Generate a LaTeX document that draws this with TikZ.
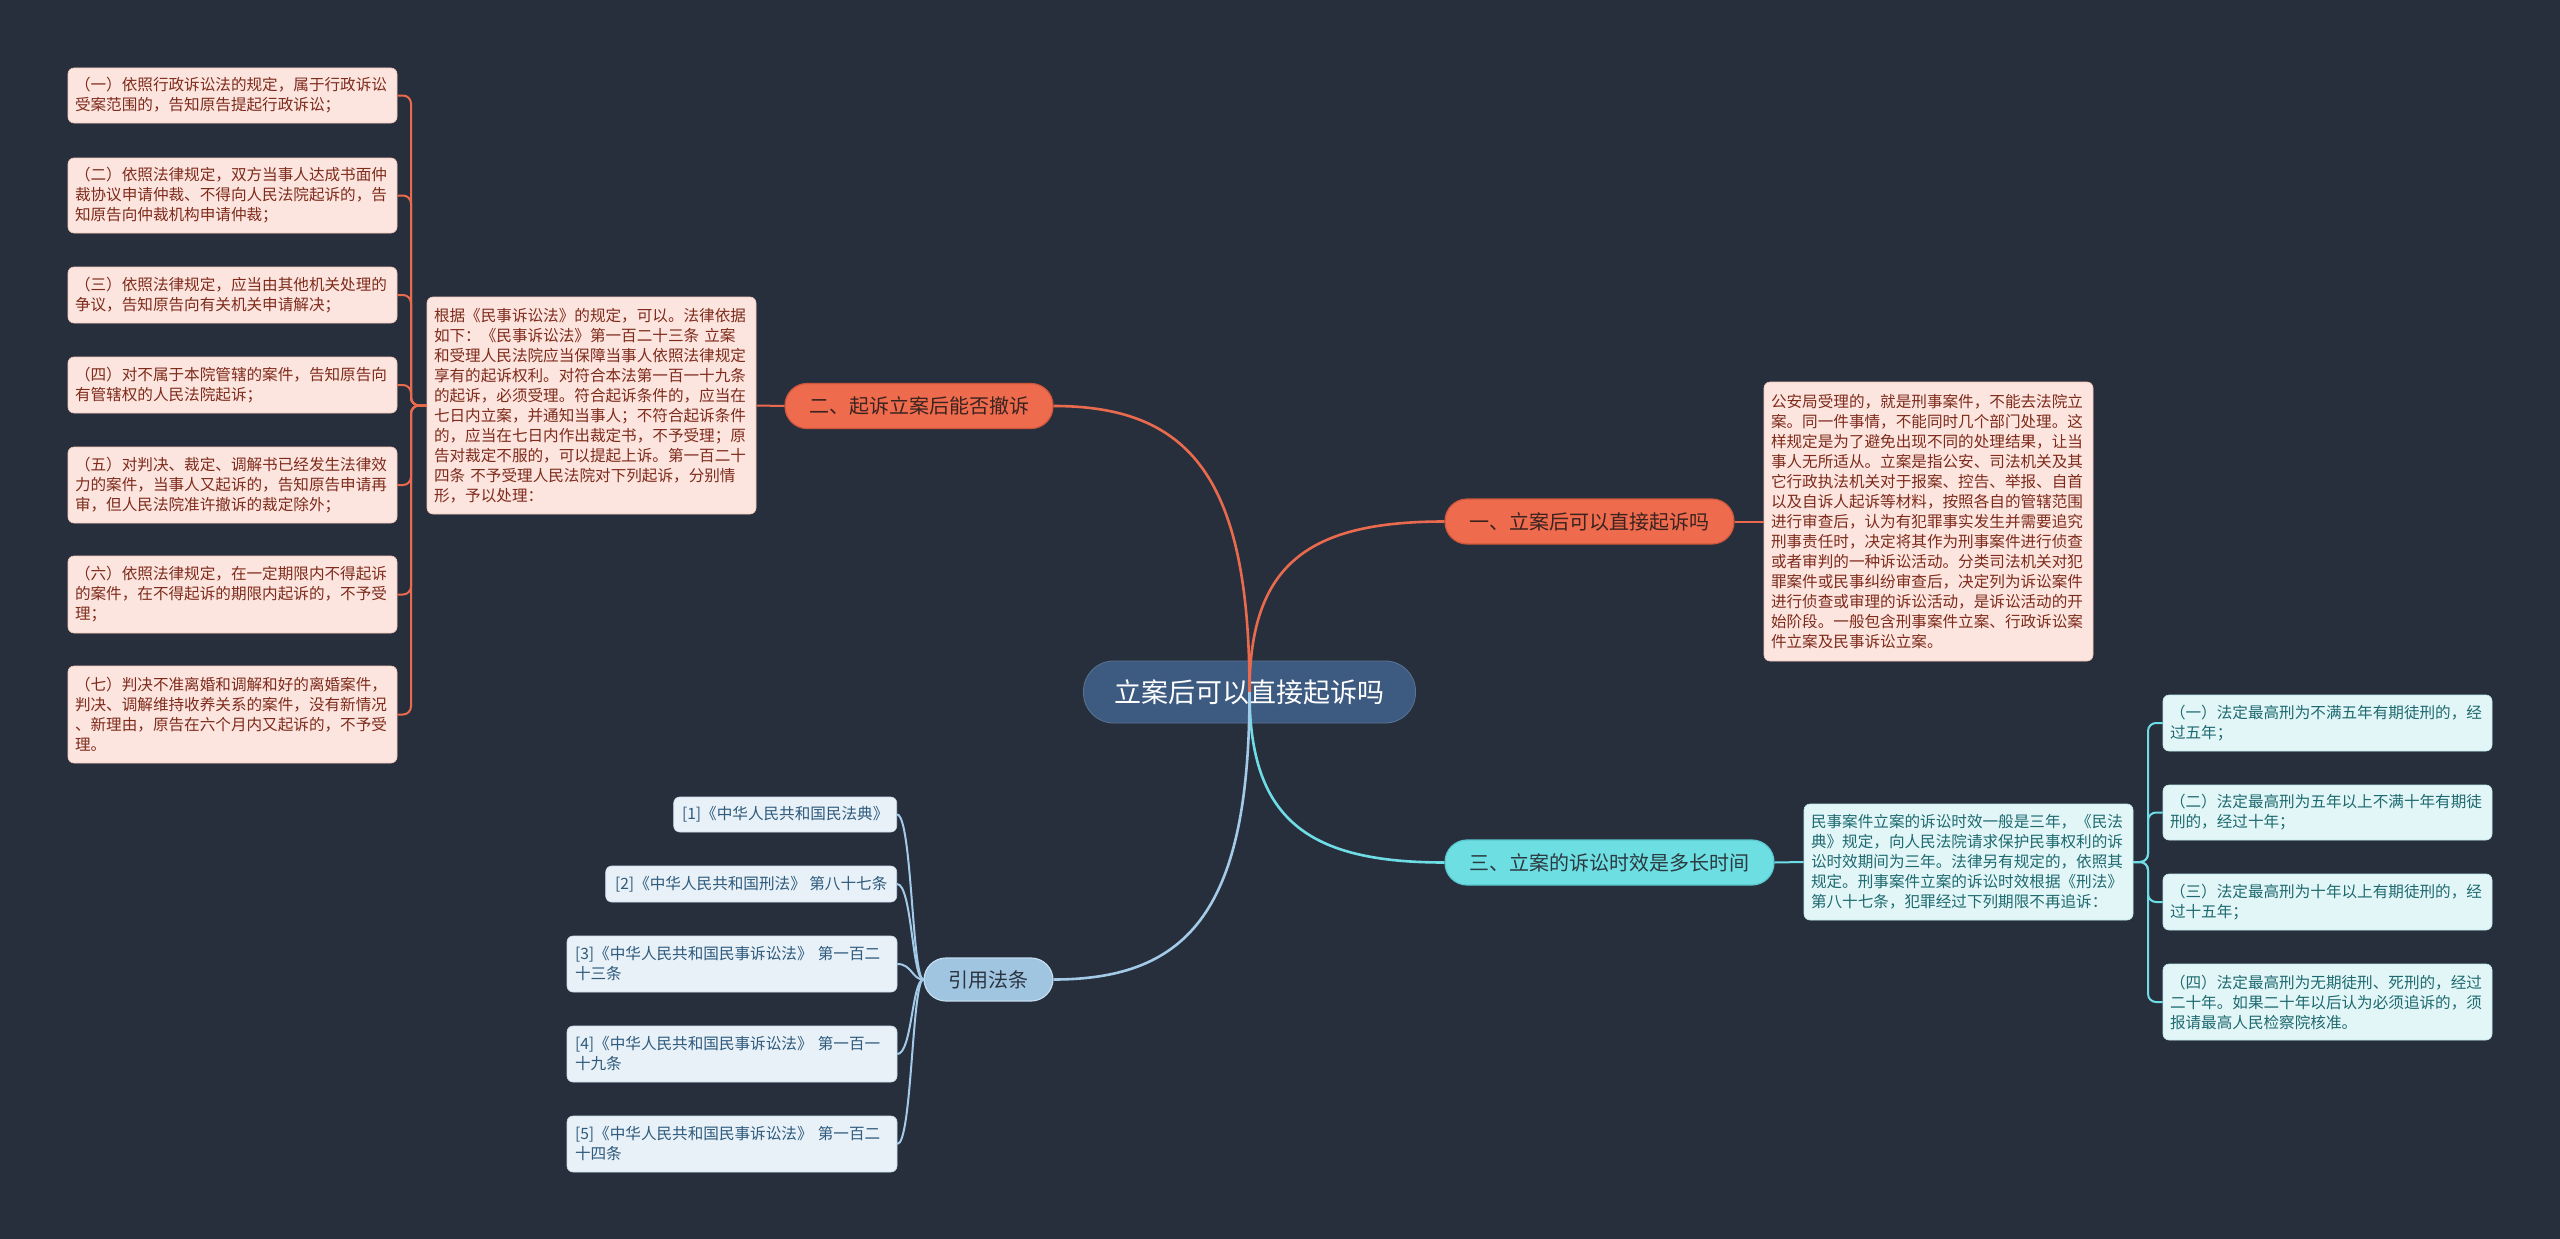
\documentclass[tikz,border=0pt]{standalone}
\usepackage{fontspec}
\setmainfont{Noto Sans CJK SC}
\definecolor{bg}{HTML}{272F3D}
\definecolor{cnode}{HTML}{3D5A80}
\definecolor{orf}{HTML}{EE6B4D}
\definecolor{ord}{HTML}{CF563C}
\definecolor{ortx}{HTML}{3A2320}
\definecolor{cyf}{HTML}{6DDFE3}
\definecolor{cyd}{HTML}{58C6CC}
\definecolor{cytx}{HTML}{2C3940}
\definecolor{blf}{HTML}{A0C5E1}
\definecolor{bld}{HTML}{C3DCEE}
\definecolor{bltx}{HTML}{2B3340}
\definecolor{pkf}{HTML}{FDE5DF}
\definecolor{pkd}{HTML}{F2C6BA}
\definecolor{pktx}{HTML}{7E2B1B}
\definecolor{lcf}{HTML}{E2F6F7}
\definecolor{lcd}{HTML}{BFE9EC}
\definecolor{lctx}{HTML}{1E6A70}
\definecolor{lbf}{HTML}{E8F1F8}
\definecolor{lbd}{HTML}{C9DCEA}
\definecolor{lbtx}{HTML}{2E5A7C}
\definecolor{orl}{HTML}{EA6A4E}
\definecolor{cyl}{HTML}{6FDDE6}
\definecolor{bll}{HTML}{A3CBE8}
\begin{document}
\begin{tikzpicture}[x=1pt,y=-1pt,
  mainnode/.style={fill=cnode, draw=cnode!85!white, line width=0.8pt, text=white, rounded corners=30pt,
    minimum width=332pt, minimum height=62pt, inner sep=0pt, font=\fontsize{27}{30}\selectfont},
  brnode/.style={rounded corners=22pt, inner sep=0pt, line width=1.2pt, minimum height=45pt,
    font=\fontsize{20}{24}\selectfont},
  brO/.style={brnode, fill=orf, draw=ord, text=ortx},
  brC/.style={brnode, fill=cyf, draw=cyd, text=cytx},
  brB/.style={brnode, fill=blf, draw=bld, text=bltx},
  leaf/.style={rounded corners=6pt, inner sep=0pt, line width=0.6pt, align=left,
    font=\fontsize{15.6}{20}\selectfont},
  leafP/.style={leaf, fill=pkf, draw=pkd, text=pktx},
  leafC/.style={leaf, fill=lcf, draw=lcd, text=lctx},
  leafB/.style={leaf, fill=lbf, draw=lbd, text=lbtx},
  mainline/.style={line width=2.6pt},
  subline/.style={line width=2pt, rounded corners=8pt}
]
\useasboundingbox (0,0) rectangle (2560,1239);
\fill[bg] (0,0) rectangle (2560,1239);

% central node
\node[mainnode] (root) at (1249.5,692) {立案后可以直接起诉吗};

% branches
\node[brO, minimum width=289pt] (b1) at (1589.5,521.5) {一、立案后可以直接起诉吗};
\node[brO, minimum width=268pt] (b2) at (919,406) {二、起诉立案后能否撤诉};
\node[brC, minimum width=329pt] (b3) at (1609.5,862.5) {三、立案的诉讼时效是多长时间};
\node[brB, minimum width=129pt, minimum height=43pt] (b4) at (988.5,979.5) {引用法条};

% detail boxes
\node[leafP, minimum width=329pt, minimum height=279pt, text width=315pt] (d1) at (1928.5,521.5) {公安局受理的，就是刑事案件，不能去法院立\\案。同一件事情，不能同时几个部门处理。这\\样规定是为了避免出现不同的处理结果，让当\\事人无所适从。立案是指公安、司法机关及其\\它行政执法机关对于报案、控告、举报、自首\\以及自诉人起诉等材料，按照各自的管辖范围\\进行审查后，认为有犯罪事实发生并需要追究\\刑事责任时，决定将其作为刑事案件进行侦查\\或者审判的一种诉讼活动。分类司法机关对犯\\罪案件或民事纠纷审查后，决定列为诉讼案件\\进行侦查或审理的诉讼活动，是诉讼活动的开\\始阶段。一般包含刑事案件立案、行政诉讼案\\件立案及民事诉讼立案。};

\node[leafP, minimum width=329pt, minimum height=217pt, text width=315pt] (d2) at (591.5,405.5) {根据《民事诉讼法》的规定，可以。法律依据\\如下：《民事诉讼法》第一百二十三条 立案\\和受理人民法院应当保障当事人依照法律规定\\享有的起诉权利。对符合本法第一百一十九条\\的起诉，必须受理。符合起诉条件的，应当在\\七日内立案，并通知当事人；不符合起诉条件\\的，应当在七日内作出裁定书，不予受理；原\\告对裁定不服的，可以提起上诉。第一百二十\\四条 不予受理人民法院对下列起诉，分别情\\形，予以处理：};

\node[leafC, minimum width=329pt, minimum height=116pt, text width=315pt] (d3) at (1968.5,862) {民事案件立案的诉讼时效一般是三年，《民法\\典》规定，向人民法院请求保护民事权利的诉\\讼时效期间为三年。法律另有规定的，依照其\\规定。刑事案件立案的诉讼时效根据《刑法》\\第八十七条，犯罪经过下列期限不再追诉：};

% left column (children of d2)
\node[leafP, minimum width=329pt, minimum height=55pt, text width=315pt] (l1) at (232.5,95.5) {（一）依照行政诉讼法的规定，属于行政诉讼\\受案范围的，告知原告提起行政诉讼；};
\node[leafP, minimum width=329pt, minimum height=75pt, text width=315pt] (l2) at (232.5,195.5) {（二）依照法律规定，双方当事人达成书面仲\\裁协议申请仲裁、不得向人民法院起诉的，告\\知原告向仲裁机构申请仲裁；};
\node[leafP, minimum width=329pt, minimum height=56pt, text width=315pt] (l3) at (232.5,295) {（三）依照法律规定，应当由其他机关处理的\\争议，告知原告向有关机关申请解决；};
\node[leafP, minimum width=329pt, minimum height=56pt, text width=315pt] (l4) at (232.5,385) {（四）对不属于本院管辖的案件，告知原告向\\有管辖权的人民法院起诉；};
\node[leafP, minimum width=329pt, minimum height=76pt, text width=315pt] (l5) at (232.5,485) {（五）对判决、裁定、调解书已经发生法律效\\力的案件，当事人又起诉的，告知原告申请再\\审，但人民法院准许撤诉的裁定除外；};
\node[leafP, minimum width=329pt, minimum height=77pt, text width=315pt] (l6) at (232.5,594.5) {（六）依照法律规定，在一定期限内不得起诉\\的案件，在不得起诉的期限内起诉的，不予受\\理；};
\node[leafP, minimum width=329pt, minimum height=97pt, text width=315pt] (l7) at (232.5,714.5) {（七）判决不准离婚和调解和好的离婚案件，\\判决、调解维持收养关系的案件，没有新情况\\、新理由，原告在六个月内又起诉的，不予受\\理。};

% right column (children of d3)
\node[leafC, minimum width=329pt, minimum height=56pt, text width=315pt] (r1) at (2327.5,723) {（一）法定最高刑为不满五年有期徒刑的，经\\过五年；};
\node[leafC, minimum width=329pt, minimum height=55pt, text width=315pt] (r2) at (2327.5,812.5) {（二）法定最高刑为五年以上不满十年有期徒\\刑的，经过十年；};
\node[leafC, minimum width=329pt, minimum height=56pt, text width=315pt] (r3) at (2327.5,902) {（三）法定最高刑为十年以上有期徒刑的，经\\过十五年；};
\node[leafC, minimum width=329pt, minimum height=76pt, text width=315pt] (r4) at (2327.5,1002) {（四）法定最高刑为无期徒刑、死刑的，经过\\二十年。如果二十年以后认为必须追诉的，须\\报请最高人民检察院核准。};

% citations
\node[leafB, minimum width=223pt, minimum height=35pt, anchor=east] (c1) at (897,814.5) {[1]《中华人民共和国民法典》};
\node[leafB, minimum width=291pt, minimum height=36pt, anchor=east] (c2) at (897,884) {[2]《中华人民共和国刑法》 第八十七条};
\node[leafB, minimum width=330pt, minimum height=56pt, text width=314pt] (c3) at (732,964) {[3]《中华人民共和国民事诉讼法》 第一百二\\十三条};
\node[leafB, minimum width=330pt, minimum height=56pt, text width=314pt] (c4) at (732,1054) {[4]《中华人民共和国民事诉讼法》 第一百一\\十九条};
\node[leafB, minimum width=330pt, minimum height=56pt, text width=314pt] (c5) at (732,1144) {[5]《中华人民共和国民事诉讼法》 第一百二\\十四条};

% main curves (drawn over the central node)
\draw[mainline, orl] (root.center) .. controls (1249.5,564) and (1308,521.5) .. (b1.west);
\draw[mainline, orl] (root.center) .. controls (1249.5,478) and (1190,406) .. (b2.east);
\draw[mainline, cyl] (root.center) .. controls (1249.5,820) and (1308,862.5) .. (b3.west);
\draw[mainline, bll] (root.center) .. controls (1249.5,908) and (1190,979.5) .. (b4.east);

% branch to detail
\draw[subline, orl] (b1.east) -- (d1.west);
\draw[subline, orl] (b2.west) -- (d2.east);
\draw[subline, cyl] (b3.east) -- (d3.west);

% left column elbows
\coordinate (jl) at (411,405.5);
\foreach \n in {l1,l2,l3,l4,l5,l6,l7}
  \draw[subline, orl] (d2.west) -- (jl) |- (\n.east);

% right column elbows
\coordinate (jr) at (2148,862);
\foreach \n in {r1,r2,r3,r4}
  \draw[subline, cyl] (d3.east) -- (jr) |- (\n.west);

% citation curves
\coordinate (jc) at (912,979.5);
\foreach \n in {c1,c2,c3,c4,c5}
  \draw[line width=2pt, bll] (\n.east) .. controls (jc |- \n.east) and (jc) .. (b4.west);
\end{tikzpicture}
\end{document}
